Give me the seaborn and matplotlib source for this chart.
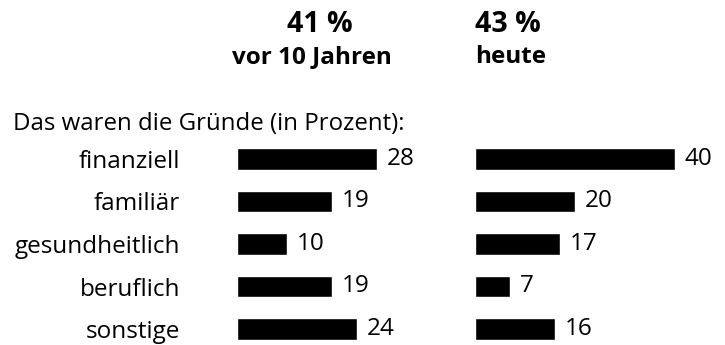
import matplotlib
matplotlib.use("Agg")
import matplotlib.pyplot as plt
import seaborn as sns
import pandas as pd

# Gründe (in Prozent)
categories = ["finanziell", "familiär", "gesundheitlich", "beruflich", "sonstige"]
vor_10_jahren = [28, 19, 10, 19, 24]
heute = [40, 20, 17, 7, 16]

# Kopfzeilen
share_labels = ["41 %", "43 %"]
period_labels = ["vor 10 Jahren", "heute"]
subtitle = "Das waren die Gründe (in Prozent):"

sns.set_theme(style="white")
plt.rcParams["font.family"] = ["Open Sans", "DejaVu Sans"]
plt.rcParams["text.color"] = "black"
plt.rcParams["ytick.color"] = "black"
plt.rcParams["ytick.labelcolor"] = "black"

W, H = 725, 345
fig = plt.figure(figsize=(W / 100, H / 100), dpi=100)
fig.patch.set_facecolor("white")

PX_PER_UNIT = 5.0
ROW = 42.5
FIRST_ROW_Y = 159.0
axes_top = FIRST_ROW_Y - ROW / 2
y_bottom = (H - FIRST_ROW_Y) / ROW


def add_panel(left_px, width_px, values, show_labels):
    ax = fig.add_axes([left_px / W, 0, width_px / W, (H - axes_top) / H])
    df = pd.DataFrame({"Grund": categories, "Prozent": values})
    sns.barplot(data=df, x="Prozent", y="Grund", color="black",
                width=0.5, ax=ax, saturation=1)
    ax.set_xlim(0, width_px / PX_PER_UNIT)
    ax.set_ylim(y_bottom, -0.5)
    ax.bar_label(ax.containers[0], labels=[str(v) for v in values],
                 padding=7, fontsize=17.5, color="black")
    for s in ax.spines.values():
        s.set_visible(False)
    ax.set_xlabel("")
    ax.set_ylabel("")
    ax.set_xticks([])
    ax.tick_params(axis="y", length=0, pad=41, labelsize=17.5,
                   labelcolor="black")
    if not show_labels:
        ax.set_yticklabels([])
    ax.patch.set_alpha(0)
    return ax


add_panel(237, 200, vor_10_jahren, True)
add_panel(475, 240, heute, False)


def ftext(x, y, s, **kw):
    fig.text(x / W, 1 - y / H, s, va="baseline", color="black", **kw)


ftext(287, 32, share_labels[0], fontsize=20.5, fontweight="bold")
ftext(232, 63, period_labels[0], fontsize=17.5, fontweight="bold")
ftext(475, 32, share_labels[1], fontsize=20.5, fontweight="bold")
ftext(475, 63, period_labels[1], fontsize=17.5, fontweight="bold")
ftext(13, 130, subtitle, fontsize=17.3)

fig.savefig("out.png", dpi=100, facecolor="white")
